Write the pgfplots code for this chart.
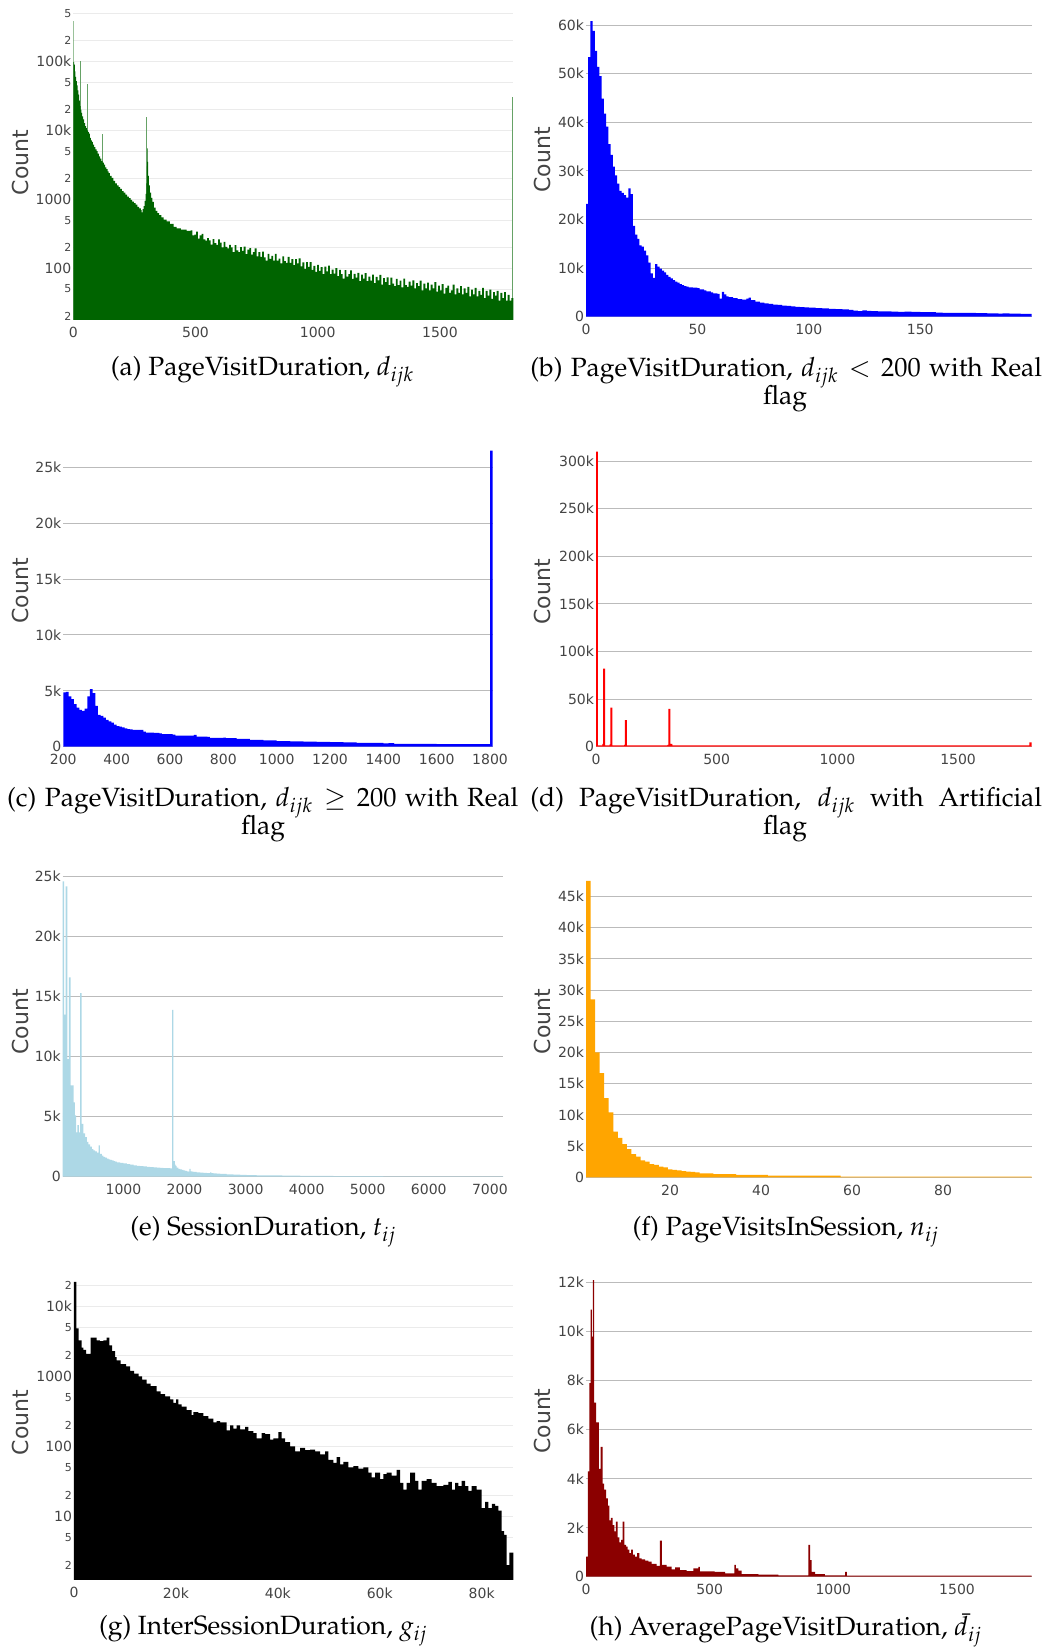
\documentclass[border=0pt]{standalone}
\usepackage{mathpazo}
\usepackage[no-math]{fontspec}
\usepackage{pgfplots}
\pgfplotsset{compat=1.18}
\newfontfamily\tickfont{DejaVu Sans}
\newcommand\capfont{\fontencoding{OT1}\fontfamily{ppl}\fontsize{13.2}{15}\selectfont}
\newcommand\mn{\fontsize{5.5}{6}\selectfont}
\definecolor{dkgreen}{HTML}{006400}
\definecolor{ltblue}{HTML}{ADD8E6}
\definecolor{orng}{HTML}{FFA500}
\definecolor{dkred}{HTML}{8B0000}
\definecolor{tickgray}{HTML}{444444}
\definecolor{gridlin}{HTML}{BBBBBB}
\definecolor{gridlog}{HTML}{EBEBEB}
\pgfplotsset{
  hist/.style={
    scale only axis, anchor=south west, clip=true,
    axis line style={draw=none}, major tick length=0pt, minor tick length=0pt,
    tick style={draw=none},
    ymajorgrids, grid style={draw=gridlin, line width=0.5pt},
    tick label style={font=\tickfont\fontsize{7}{8.4}\selectfont, text=tickgray},
    yticklabel style={inner sep=0.8pt},
    xticklabel style={inner sep=0pt, yshift=-3.5pt},
    ylabel={Count},
    ylabel style={font=\tickfont\fontsize{11}{13}\selectfont, text=tickgray, anchor=center},
    scaled ticks=false,
  },
  loggrid/.style={grid style={draw=gridlog, line width=0.5pt}},
}
\begin{document}
\begin{tikzpicture}
\useasboundingbox (0,0) rectangle (525pt,824pt);

% (a)
\begin{axis}[hist, loggrid, at={(36.65pt,664pt)}, width=220pt, height=157.5pt,
  ymode=log, xmin=0, xmax=1800, ymin=17.8, ymax=660000,
  ylabel style={at={(axis description cs:-0.121,0.5)}},
  xtick={0,500,1000,1500}, xticklabels={0,500,1000,1500},
  ytick={20,50,100,200,500,1000,2000,5000,10000,20000,50000,100000,200000,500000},
  yticklabels={{\mn 2},{\mn 5},100,{\mn 2},{\mn 5},1000,{\mn 2},{\mn 5},10k,{\mn 2},{\mn 5},100k,{\mn 2},{\mn 5}}]
\addplot[ycomb, draw=dkgreen!60!white, line width=0.5pt, mark=none] coordinates {
(1,390000)(30,100000)(60,47000)(120,9000)(300,15600)(1798,31000)};
\addplot[const plot, fill=dkgreen, draw=none] coordinates {
(0,98000)(3,90000)(6,72000)(9,60000)(12,52000)(15,45000)(18,38000)(21,33000)(24,27000)(27,22500)(30,20000)(33,18000)(36,16000)(40,14500)(44,12800)(48,11500)(52,10800)(56,10000)(60,9500)(64,9000)(68,7800)(72,7200)(76,6800)(80,6200)(85,5700)(90,5300)(95,5000)(100,4600)(105,4200)(110,3900)(115,3600)(120,3400)(125,3200)(130,2900)(135,2750)(140,2550)(145,2400)(150,2200)(157,2050)(164,1850)(171,1700)(178,1600)(185,1500)(192,1420)(199,1320)(206,1250)(213,1170)(220,1100)(227,1040)(234,980)(241,930)(248,880)(255,840)(262,780)(269,740)(276,700)(280,650)(284,720)(288,800)(292,950)(296,1200)(299,1700)(301,3000)(302,5500)(304,3500)(306,2200)(309,1600)(313,1250)(318,1050)(323,920)(330,760)(337,680)(344,630)(351,590)(360,550)(370,510)(382,480)(395,440)(410,400)(423,380)(440,365)(464,350)
(480,355)(487,301)(495,308)(502,340)(510,270)(517,301)(525,317)(532,262)(540,252)(547,274)(555,255)(562,220)(570,266)(577,231)(585,219)(592,263)(600,236)(607,201)(615,241)(622,204)(630,194)(637,218)(645,201)(652,171)(660,217)(667,182)(675,171)(682,203)(690,179)(697,206)(705,160)(712,187)(720,196)(727,158)(735,172)(742,194)(750,149)(757,171)(765,146)(772,175)(780,144)(787,129)(795,162)(802,137)(810,151)(817,129)(825,162)(832,129)(840,138)(847,118)(855,149)(862,127)(870,120)(877,147)(885,120)(892,136)(900,111)(907,136)(915,118)(922,139)(930,107)(937,122)(945,98)(952,123)(960,105)(967,123)(975,95)(982,108)(990,89)(997,112)
(1005,92)(1012,104)(1020,82)(1027,106)(1035,90)(1042,109)(1050,82)(1057,96)(1065,84)(1072,101)(1080,77)(1087,95)(1095,82)(1102,71)(1110,94)(1117,76)(1125,82)(1132,93)(1140,70)(1147,83)(1155,73)(1162,86)(1170,65)(1177,81)(1185,71)(1192,85)(1200,65)(1207,76)(1215,66)(1222,81)(1230,61)(1237,75)(1245,67)(1252,80)(1260,58)(1267,72)(1275,63)(1282,74)(1290,57)(1297,73)(1305,60)(1312,55)(1320,70)(1327,57)(1335,66)(1342,53)(1350,71)(1357,57)(1365,54)(1372,64)(1380,56)(1387,67)(1395,51)(1402,61)(1410,55)(1417,66)(1425,48)(1432,60)(1440,51)(1447,62)(1455,48)(1462,58)(1470,51)(1477,63)(1485,46)(1492,56)(1500,48)(1507,59)(1515,43)(1522,52)(1530,56)(1537,44)(1545,48)(1552,58)(1560,42)(1567,51)(1575,44)(1582,55)(1590,42)(1597,51)(1605,44)(1612,54)(1620,39)(1627,49)(1635,42)(1642,52)(1650,39)(1657,47)(1665,41)(1672,52)(1680,37)(1687,47)(1695,40)(1702,49)(1710,36)(1717,45)(1725,40)(1732,47)(1740,34)(1747,44)(1755,37)(1762,45)(1770,34)(1777,41)(1785,34)(1792,37)(1800,37)
} \closedcycle;
\end{axis}

% (b)
\begin{axis}[hist, at={(293pt,665.65pt)}, width=222.85pt, height=156.7pt,
  xmin=0, xmax=200, ymin=0, ymax=64500,
  ylabel style={at={(axis description cs:-0.0976,0.5)}},
  xtick={0,50,100,150}, xticklabels={0,50,100,150},
  ytick={0,10000,20000,30000,40000,50000,60000},
  yticklabels={0,10k,20k,30k,40k,50k,60k}]
\addplot[const plot, fill=blue, draw=none] coordinates {
(0,23200)(1,53400)(2,60800)(3,58800)(4,54700)(5,51400)(6,49500)(7,44900)(8,41800)(9,39100)(10,35500)(11,33300)(12,30900)(13,29100)(14,27400)(15,25900)(16,25500)(17,25000)(18,24500)(19,26400)(20,25200)(21,18700)(22,16900)(23,16000)(24,14700)(25,14400)(26,13600)(27,12600)(28,11100)(29,8900)(30,8000)(31,10800)(32,10300)(33,9900)(34,9500)(35,9100)(36,8600)(37,8200)(38,7900)(39,7500)(40,7200)(41,7000)(42,6700)(43,6500)(44,6300)(45,6200)(46,6050)(48,6000)(50,5900)(51,5600)(53,5400)(54,5200)(56,5000)(57,4800)(59,4700)(60,3700)(61,5100)(62,4600)(63,4200)(64,4000)(66,3800)(68,3600)(70,3500)(72,3700)(73,3900)(74,3400)(76,3100)(78,2900)(80,2750)(82,2650)(84,2500)(86,2450)(88,2300)(90,2200)(92,2100)(94,2000)(96,1950)(98,1900)(100,1850)(103,1750)(106,1700)(109,1620)(112,1550)(115,1500)(118,1400)(120,1250)(122,1150)(124,1300)(126,1200)(128,1150)(131,1100)(134,1080)(137,1050)(140,1000)(143,1050)(146,980)(150,950)(154,920)(157,850)(160,800)(165,780)(170,760)(175,740)(180,700)(185,650)(187,700)(190,640)(195,600)(200,600)
} \closedcycle;
\end{axis}

% (c)
\begin{axis}[hist, at={(31.65pt,450.65pt)}, width=214.7pt, height=155.9pt,
  xmin=200, xmax=1810, ymin=0, ymax=27900,
  ylabel style={at={(axis description cs:-0.1008,0.5)}},
  xtick={200,400,600,800,1000,1200,1400,1600,1800},
  xticklabels={200,400,600,800,1000,1200,1400,1600,1800},
  ytick={0,5000,10000,15000,20000,25000},
  yticklabels={0,5k,10k,15k,20k,25k}]
\addplot[const plot, fill=blue, draw=none] coordinates {
(200,4870)(210,4900)(220,4500)(230,4250)(240,3800)(250,3500)(260,3300)(270,3200)(280,3400)(290,4500)(300,5150)(310,4800)(320,3650)(330,2850)(340,2750)(350,2600)(360,2400)(370,2270)(380,2150)(390,1970)(400,1850)(410,1800)(420,1730)(430,1640)(440,1580)(450,1550)(460,1500)(500,1350)(510,1250)(530,1260)(540,1230)(560,1200)(570,1130)(610,1080)(620,1000)(680,980)(690,1050)(700,900)(740,880)(750,780)(800,800)(810,760)(850,700)(900,620)(950,560)(1000,500)(1050,480)(1100,450)(1150,430)(1200,400)(1250,380)(1300,350)(1350,330)(1400,290)(1420,320)(1440,260)(1500,250)(1600,230)(1700,220)(1800,26500)(1810,26500)
} \closedcycle;
\end{axis}

% (d)
\begin{axis}[hist, at={(298pt,450.65pt)}, width=217.85pt, height=154.95pt,
  xmin=0, xmax=1805, ymin=0, ymax=325500,
  ylabel style={at={(axis description cs:-0.1228,0.5)}},
  xtick={0,500,1000,1500}, xticklabels={0,500,1000,1500},
  ytick={0,50000,100000,150000,200000,250000,300000},
  yticklabels={0,50k,100k,150k,200k,250k,300k}]
\addplot[const plot, fill=red, draw=none] coordinates {
(0,310000)(8,1500)(26,3000)(30,82000)(38,1500)(56,2500)(60,41000)(68,1500)(116,2000)(120,28000)(128,1500)(296,2000)(300,39600)(308,3000)(316,1500)(1795,4500)(1805,4500)
} \closedcycle;
\end{axis}

% (e)
\begin{axis}[hist, at={(31.35pt,235.65pt)}, width=220.3pt, height=154.8pt,
  xmin=5, xmax=7220, ymin=0, ymax=25800,
  ylabel style={at={(axis description cs:-0.0969,0.5)}},
  xtick={1000,2000,3000,4000,5000,6000,7000},
  xticklabels={1000,2000,3000,4000,5000,6000,7000},
  ytick={0,5000,10000,15000,20000,25000},
  yticklabels={0,5k,10k,15k,20k,25k}]
\addplot[const plot, fill=ltblue, draw=none] coordinates {
(5,24600)(29,13500)(51,24200)(83,9800)(105,16600)(133,7600)(160,7600)(182,6200)(204,5100)(225,3700)(247,4300)(269,3700)(291,15300)(313,4400)(345,3600)(373,3300)(400,2900)(427,2700)(455,2500)(482,2300)(509,2200)(536,2100)(564,2000)(592,2600)(612,1900)(646,1750)(673,1650)(700,1580)(728,1500)(755,1450)(782,1400)(810,1350)(837,1300)(864,1250)(891,1200)(945,1150)(1000,1100)(1055,1050)(1110,1000)(1165,950)(1219,900)(1274,880)(1328,850)(1383,820)(1437,800)(1492,780)(1546,750)(1600,730)(1655,720)(1710,710)(1764,700)(1796,13900)(1818,1300)(1840,1000)(1856,900)(1872,750)(1900,650)(1927,600)(1955,560)(1982,520)(2010,480)(2037,450)(2064,430)(2080,650)(2100,450)(2125,420)(2145,400)(2200,360)(2255,330)(2310,310)(2364,300)(2418,350)(2440,290)(2473,280)(2527,250)(2582,230)(2690,200)(2800,180)(2910,150)(3018,130)(3180,115)(3346,100)(3600,85)(3891,70)(4150,60)(4437,50)(4700,45)(4982,40)(5250,35)(5528,30)(5800,28)(6073,25)(6350,22)(6619,20)(6900,18)(7220,18)
} \closedcycle;
\end{axis}

% (f)
\begin{axis}[hist, at={(293pt,235.35pt)}, width=222.85pt, height=155.7pt,
  xmin=1.5, xmax=99.5, ymin=0, ymax=49900,
  ylabel style={at={(axis description cs:-0.0976,0.5)}},
  xtick={20,40,60,80}, xticklabels={20,40,60,80},
  ytick={0,5000,10000,15000,20000,25000,30000,35000,40000,45000},
  yticklabels={0,5k,10k,15k,20k,25k,30k,35k,40k,45k}]
\addplot[const plot, fill=orng, draw=none] coordinates {
(1.5,47500)(2.5,28500)(3.5,20000)(4.5,16700)(5.5,12700)(6.5,10400)(7.5,7300)(8.5,6300)(9.5,5300)(10.5,4500)(11.5,3700)(12.5,3300)(13.5,2700)(14.5,2500)(15.5,2100)(16.5,2000)(17.5,1700)(18.5,1600)(19.5,1250)(20.5,1200)(21.5,1100)(22.5,1000)(23.5,900)(24.5,850)(25.5,800)(26.5,620)(29.5,520)(34.5,400)(41.5,260)(57.5,90)(99.5,90)
} \closedcycle;
\end{axis}

% (g)
\begin{axis}[hist, loggrid, at={(37pt,34pt)}, width=219.65pt, height=157.5pt,
  ymode=log, xmin=0, xmax=86210, ymin=1.22, ymax=39500,
  ylabel style={at={(axis description cs:-0.1229,0.5)}},
  xtick={0,20000,40000,60000,80000}, xticklabels={0,20k,40k,60k,80k},
  ytick={2,5,10,20,50,100,200,500,1000,2000,5000,10000,20000},
  yticklabels={{\mn 2},{\mn 5},10,{\mn 2},{\mn 5},100,{\mn 2},{\mn 5},1000,{\mn 2},{\mn 5},10k,{\mn 2}}]
\addplot[const plot, fill=black, draw=none] coordinates {
(0,22700)(460,4900)(920,3300)(1500,2600)(1830,2400)(2360,2100)(3270,3600)(4450,3300)(5100,3200)(5760,3300)(6410,3600)(6930,2800)(7460,2300)(8050,1900)(8370,1700)(9160,1500)(10210,1400)(10990,1200)(11780,1100)(12690,1000)(13350,900)(14260,790)(15050,730)(16230,610)(17010,560)(17860,520)(18840,470)(19500,420)(20020,470)(20480,400)(21130,370)(22110,330)(23090,280)(23420,310)(24400,300)(25380,270)(26370,250)(27350,220)(28000,230)(28660,220)(29970,170)(30620,200)(31270,180)(31930,200)(32580,175)(33560,190)(34220,165)(35200,155)(35850,130)(36830,155)(37490,150)(38470,125)(39120,130)(40100,160)(40760,130)(41410,115)(42390,100)(43380,85)(44360,95)(45340,88)(46320,90)(47300,85)(48280,77)(49260,85)(49920,64)(50900,58)(51550,70)(52210,55)(52860,60)(53840,50)(54830,52)(55810,48)(56790,50)(57770,42)(58420,36)(59080,42)(60060,34)(60710,40)(61370,42)(62350,38)(63330,46)(63980,30)(64640,24)(65290,30)(65950,42)(66930,32)(67580,24)(68240,32)(69220,34)(70200,30)(71180,27)(72490,28)(73470,31)(74130,24)(74780,30)(75430,27)(76090,32)(76740,27)(77400,23)(78050,27)(79030,24)(80010,13)(80670,16)(81320,13)(81980,15)(82630,14)(83290,12)(83940,6.1)(84400,5.4)(84920,2)(85440,3)(86210,3)
} \closedcycle;
\end{axis}

% (h)
\begin{axis}[hist, at={(293pt,35.65pt)}, width=222.85pt, height=155.6pt,
  xmin=0, xmax=1802, ymin=0, ymax=12700,
  ylabel style={at={(axis description cs:-0.0976,0.5)}},
  xtick={0,500,1000,1500}, xticklabels={0,500,1000,1500},
  ytick={0,2000,4000,6000,8000,10000,12000},
  yticklabels={0,2k,4k,6k,8k,10k,12k}]
\addplot[const plot, fill=dkred, draw=none] coordinates {
(0,820)(8,4300)(14,7900)(19,10900)(24,9800)(28,12100)(33,7100)(41,6300)(52,4400)(59,5300)(67,3800)(73,3550)(81,3200)(88,2900)(94,2300)(101,2400)(108,2100)(115,1850)(121,2250)(128,1600)(135,1400)(142,1500)(148,2250)(155,1300)(162,1230)(168,1100)(175,960)(182,1100)(189,900)(198,820)(207,960)(216,750)(225,710)(239,660)(252,620)(265,520)(286,440)(299,1470)(307,480)(326,410)(346,300)(360,380)(380,270)(407,230)(434,340)(454,400)(460,220)(520,200)(562,140)(600,480)(606,340)(616,250)(629,110)(697,80)(778,55)(899,1300)(906,680)(912,200)(926,110)(966,55)(1048,200)(1055,40)(1802,40)
} \closedcycle;
\end{axis}

% captions
\node[anchor=base, inner sep=0] at (131.25pt,636pt) {\capfont (a) PageVisitDuration, $d_{ijk}$};
\node[anchor=base west, inner sep=0] at (265pt,635.65pt) {\capfont\makebox[255.85pt][s]{(b) PageVisitDuration, $d_{ijk} < 200$ with Real}};
\node[anchor=base, inner sep=0] at (392.5pt,621.5pt) {\capfont flag};
\node[anchor=base west, inner sep=0] at (3.35pt,420.65pt) {\capfont\makebox[255.65pt][s]{(c) PageVisitDuration, $d_{ijk} \geq 200$ with Real}};
\node[anchor=base, inner sep=0] at (131.5pt,406.5pt) {\capfont flag};
\node[anchor=base west, inner sep=0] at (265pt,420.65pt) {\capfont\makebox[255.85pt][s]{(d) PageVisitDuration, $d_{ijk}$ with Artificial}};
\node[anchor=base, inner sep=0] at (392.5pt,406.5pt) {\capfont flag};
\node[anchor=base, inner sep=0] at (131.65pt,206pt) {\capfont (e) SessionDuration, $t_{ij}$};
\node[anchor=base, inner sep=0] at (392.9pt,206pt) {\capfont (f) PageVisitsInSession, $n_{ij}$};
\node[anchor=base, inner sep=0] at (131.65pt,6.5pt) {\capfont (g) InterSessionDuration, $g_{ij}$};
\node[anchor=base, inner sep=0] at (392.9pt,6pt) {\capfont (h) AveragePageVisitDuration, $\bar{d}_{ij}$};
\end{tikzpicture}
\end{document}
